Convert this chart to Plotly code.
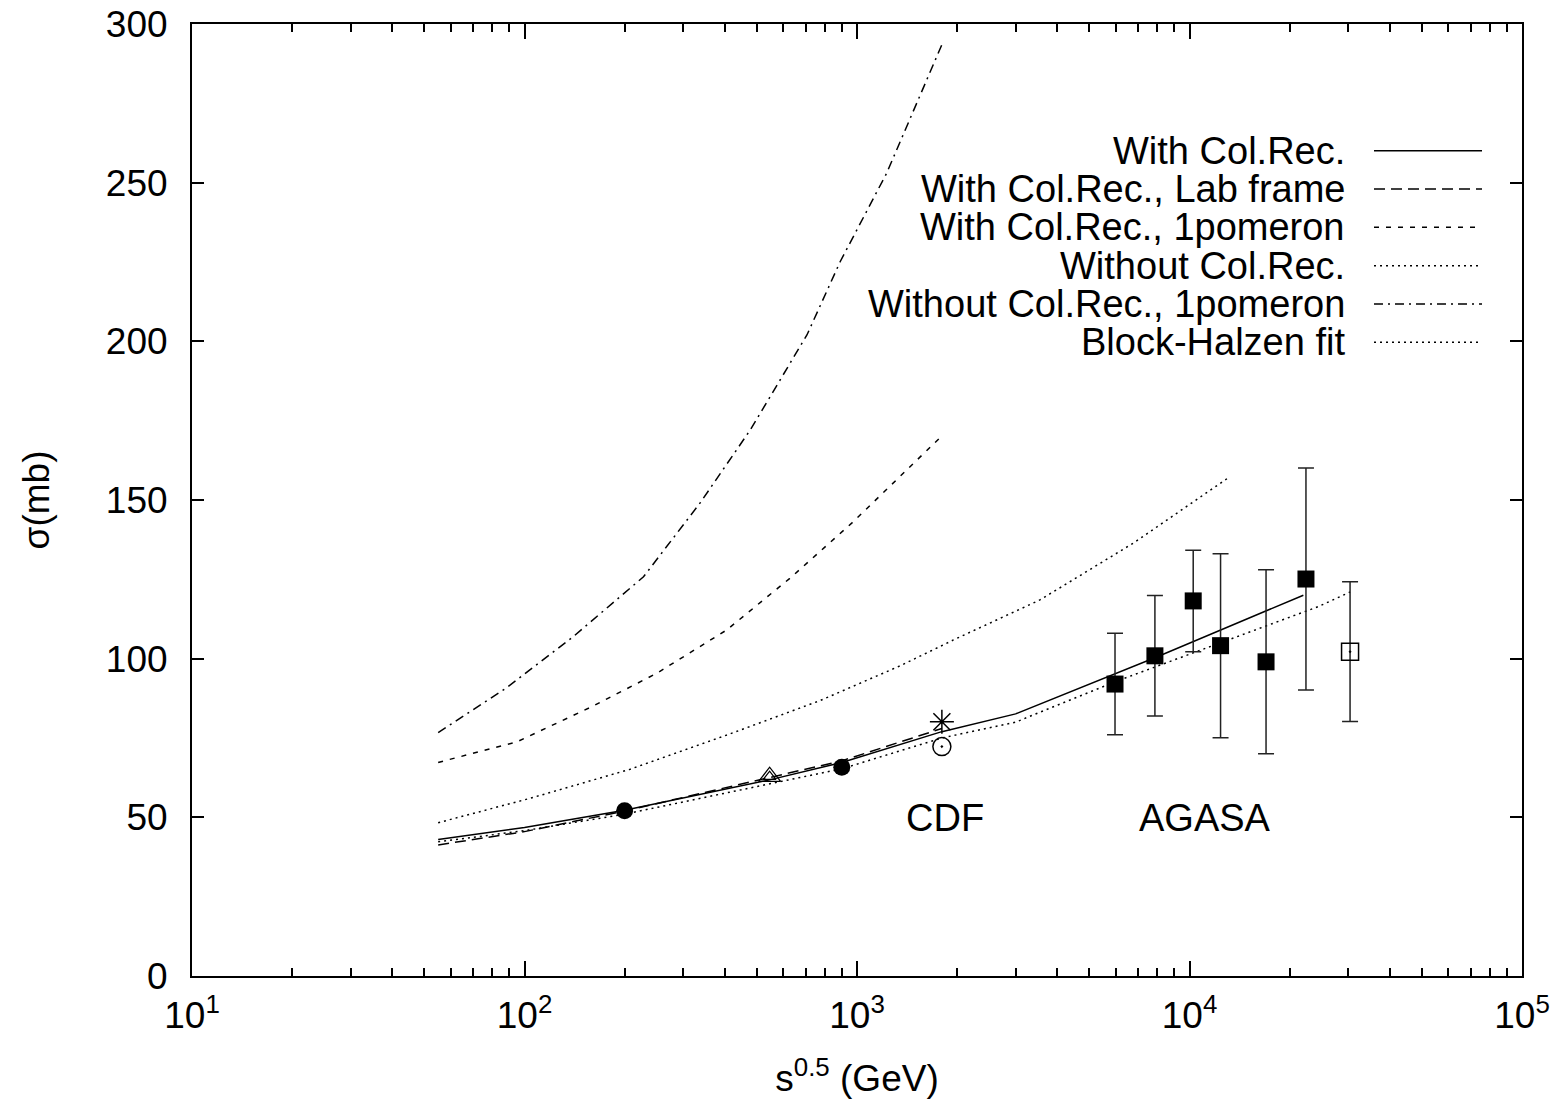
import plotly.graph_objects as go

# ---------------- data ----------------
x_colrec = [55, 100, 200, 546, 900, 1800, 3000, 5000, 8000, 22000]
y_colrec = [43.0, 46.8, 52.2, 61.8, 67.3, 77.0, 82.6, 92.0, 100.6, 120.0]

x_lab = [55, 100, 200, 546, 900, 1800]
y_lab = [41.3, 45.5, 52.0, 62.5, 67.8, 78.0]

x_1pom = [55, 95, 161, 250, 405, 628, 964, 1800]
y_1pom = [67.3, 73.8, 85.1, 95.4, 109.0, 125.3, 142.7, 170.2]

x_nocol = [55, 104, 207, 415, 775, 1345, 1950, 3548, 6776, 13250]
y_nocol = [48.3, 56.0, 65.1, 76.3, 86.8, 97.7, 105.9, 118.5, 136.4, 157.4]

x_nocol1p = [55, 88, 140, 228, 337, 477, 707, 889, 1228, 1800]
y_nocol1p = [76.7, 90.7, 106.9, 125.8, 149.0, 172.0, 202.0, 225.0, 253.0, 293.5]

x_bh = [55, 100, 200, 546, 900, 1800, 3000, 6000, 14000, 24400, 30400]
y_bh = [42.3, 45.8, 51.0, 60.5, 65.3, 75.0, 80.0, 92.8, 107.2, 116.4, 121.0]

x_agasa = [5970, 7870, 10260, 12400, 16990, 22400]
y_agasa = [92.0, 100.9, 118.2, 104.1, 99.0, 125.1]
e_agasa = [16, 19, 16, 29, 29, 35]

x_open_sq = [30400]
y_open_sq = [102.2]
e_open_sq = [22]

x_ua5 = [200, 900]
y_ua5 = [52.1, 65.8]

x_546 = [546]
y_546 = [62.8]

x_cdf = [1800]
y_cdf = [80.1]

x_e710 = [1800]
y_e710 = [72.3]

legend_labels = ["With Col.Rec.", "With Col.Rec., Lab frame", "With Col.Rec., 1pomeron",
                 "Without Col.Rec.", "Without Col.Rec., 1pomeron", "Block-Halzen fit"]

x_tickvals = [10, 100, 1000, 10000, 100000]
x_ticktext = ["10<sup>1</sup>", "10<sup>2</sup>", "10<sup>3</sup>", "10<sup>4</sup>", "10<sup>5</sup>"]
x_minorvals = [m * 10 ** e for e in range(1, 5) for m in range(2, 10)]

# ---------------- styles ----------------
FONT = "Liberation Sans, Arial, sans-serif"
FS = 38
TFS = 37
dashes = ["solid", "11px,6px", "5px,7px", "2px,4px", "9px,5px,2px,5px", "2px,4px"]
LW = 1.5

fig = go.Figure()

curves = [(x_colrec, y_colrec), (x_lab, y_lab), (x_1pom, y_1pom),
          (x_nocol, y_nocol), (x_nocol1p, y_nocol1p), (x_bh, y_bh)]
for (xs, ys), d, name in zip(curves, dashes, legend_labels):
    fig.add_trace(go.Scatter(x=xs, y=ys, mode="lines", name=name,
                             line=dict(color="black", width=LW, dash=d),
                             showlegend=False))

fig.add_trace(go.Scatter(x=x_agasa, y=y_agasa, mode="markers",
                         marker=dict(symbol="square", size=17, color="black"),
                         error_y=dict(type="data", array=e_agasa, visible=True,
                                      color="#222", thickness=1.5, width=8),
                         showlegend=False))
fig.add_trace(go.Scatter(x=x_open_sq, y=y_open_sq, mode="markers",
                         marker=dict(symbol="square-open-dot", size=17, color="black",
                                     line=dict(width=1.5)),
                         error_y=dict(type="data", array=e_open_sq, visible=True,
                                      color="#222", thickness=1.5, width=8),
                         showlegend=False))
fig.add_trace(go.Scatter(x=x_ua5, y=y_ua5, mode="markers",
                         marker=dict(symbol="circle", size=17, color="black"),
                         showlegend=False))
for sz in (19, 11):
    fig.add_trace(go.Scatter(x=x_546, y=y_546, mode="markers",
                             marker=dict(symbol="triangle-up-open", size=sz, color="black",
                                         line=dict(width=1.3)),
                             showlegend=False))
fig.add_trace(go.Scatter(x=x_cdf, y=y_cdf, mode="markers",
                         marker=dict(symbol="asterisk-open", size=20, color="black",
                                     line=dict(width=1.5, color="black")),
                         showlegend=False))
fig.add_trace(go.Scatter(x=x_e710, y=y_e710, mode="markers",
                         marker=dict(symbol="circle-open-dot", size=18, color="black",
                                     line=dict(width=1.5)),
                         showlegend=False))

# ---------------- legend (gnuplot-style key) ----------------
L, R, T, B = 192, 1522, 24, 976
def px(x):
    return (x - L) / (R - L)
def py(y):
    return (B - y) / (B - T)

row_y = [150.7, 189.0, 227.3, 265.7, 304.0, 342.3]
for lab, d, yy in zip(legend_labels, dashes, row_y):
    fig.add_annotation(x=px(1347), y=py(yy), xref="paper", yref="paper",
                       text=lab, showarrow=False, xanchor="right", yanchor="middle",
                       font=dict(family=FONT, size=FS, color="black"))
    fig.add_shape(type="line", xref="paper", yref="paper",
                  x0=px(1374), x1=px(1482), y0=py(yy), y1=py(yy),
                  line=dict(color="black", width=LW, dash=d))

# text labels
fig.add_annotation(x=3.265, y=49.8, text="CDF", showarrow=False,
                   font=dict(family=FONT, size=FS, color="black"))
fig.add_annotation(x=4.047, y=49.8, text="AGASA", showarrow=False,
                   font=dict(family=FONT, size=FS, color="black"))

fig.update_layout(
    width=1562, height=1100,
    margin=dict(l=L, r=1562 - R, t=T, b=1100 - B, autoexpand=False),
    paper_bgcolor="white", plot_bgcolor="white",
    font=dict(family=FONT, size=TFS, color="black"),
)
fig.update_xaxes(type="log", range=[1, 5], tickmode="array",
                 tickvals=x_tickvals, ticktext=x_ticktext, automargin=False,
                 showline=True, linecolor="black", linewidth=2, mirror="allticks",
                 ticks="inside", ticklen=15, tickwidth=2, tickcolor="black",
                 minor=dict(ticks="inside", ticklen=8, tickwidth=2, tickcolor="black",
                            tickmode="array", tickvals=x_minorvals, showgrid=False),
                 showgrid=False, zeroline=False, ticklabelstandoff=6,
                 tickfont=dict(family=FONT, size=TFS),
                 title=dict(text="s<sup>0.5</sup> (GeV)", font=dict(family=FONT, size=TFS),
                            standoff=30))
fig.update_yaxes(range=[0, 300], dtick=50, automargin=False,
                 showline=True, linecolor="black", linewidth=2, mirror="allticks",
                 ticks="inside", ticklen=12, tickwidth=2, tickcolor="black",
                 showgrid=False, zeroline=False, ticklabelstandoff=15,
                 tickfont=dict(family=FONT, size=TFS),
                 title=dict(text="σ(mb)", font=dict(family=FONT, size=TFS), standoff=45))

fig.write_html("out.html")
